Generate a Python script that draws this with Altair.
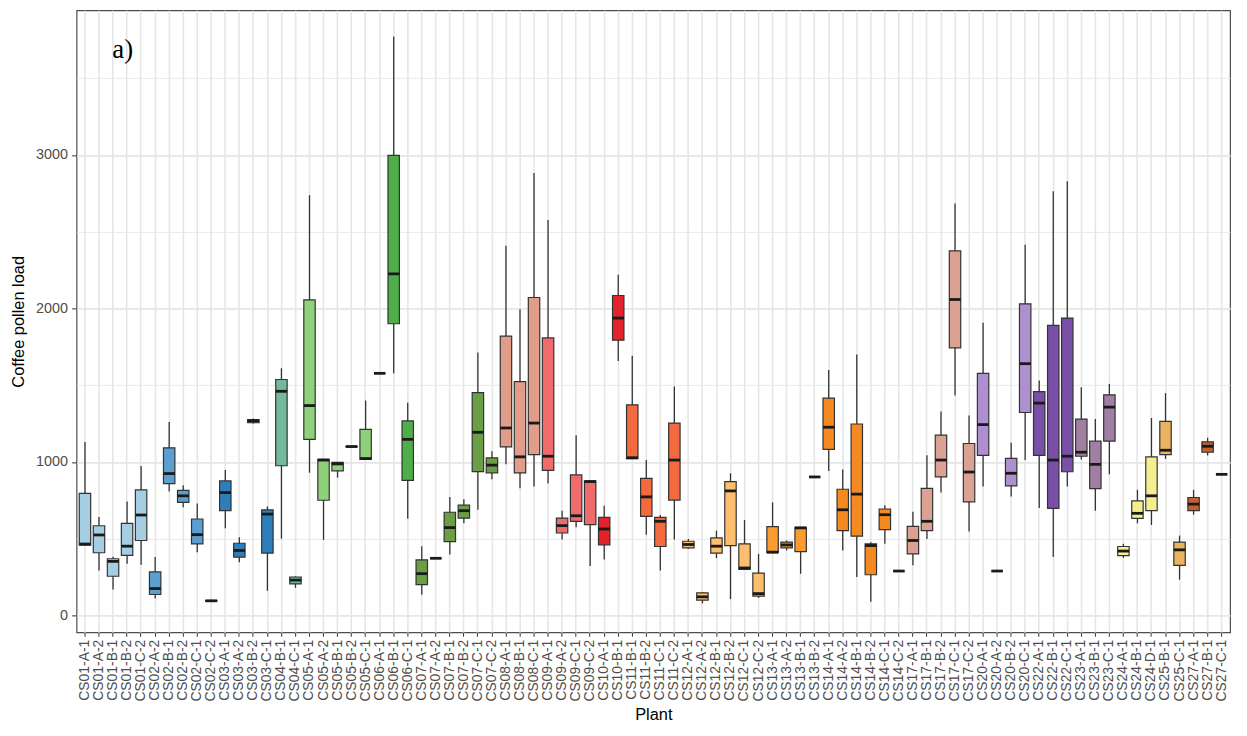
import altair as alt
import pandas as pd

plants = ["CS01-A-1","CS01-A-2","CS01-B-1","CS01-B-2","CS01-C-2",
          "CS02-A-2","CS02-B-1","CS02-B-2","CS02-C-1","CS02-C-2",
          "CS03-A-1","CS03-A-2","CS03-B-2","CS03-C-1",
          "CS04-B-1","CS04-C-1",
          "CS05-A-1","CS05-A-2","CS05-B-1","CS05-B-2","CS05-C-1",
          "CS06-A-1","CS06-B-1","CS06-C-1",
          "CS07-A-1","CS07-A-2","CS07-B-1","CS07-B-2","CS07-C-1","CS07-C-2",
          "CS08-A-1","CS08-B-1","CS08-C-1",
          "CS09-A-1","CS09-A-2","CS09-C-1","CS09-C-2",
          "CS10-A-1","CS10-B-1",
          "CS11-B-1","CS11-B-2","CS11-C-1","CS11-C-2",
          "CS12-A-1","CS12-A-2","CS12-B-1","CS12-B-2","CS12-C-1","CS12-C-2",
          "CS13-A-1","CS13-A-2","CS13-B-1","CS13-B-2",
          "CS14-A-1","CS14-A-2","CS14-B-1","CS14-B-2","CS14-C-1","CS14-C-2",
          "CS17-A-1","CS17-B-1","CS17-B-2","CS17-C-1","CS17-C-2",
          "CS20-A-1","CS20-A-2","CS20-B-2","CS20-C-1",
          "CS22-A-1","CS22-B-1","CS22-C-1",
          "CS23-A-1","CS23-B-1","CS23-C-1",
          "CS24-A-1","CS24-B-1","CS24-D-1",
          "CS25-B-1","CS25-C-1",
          "CS27-A-1","CS27-B-1","CS27-C-1"]

lower = [455,293,168,336,330, 110,807,704,412,92, 568,347,1250,160, 500,180,
         930,492,897,1097,1017, 1577,1577,630, 135,372,397,600,688,887,
         984,828,839, 859,494,574,322, 364,1657, 1021,526,293,494,
         434,78,373,106,300,114, 408,423,272,902, 941,423,250,89,466,289,
         326,498,800,1432,546, 839,289,775,1012, 699,380,839, 1016,682,919,
         375,600,589, 1020,233, 656,1042,919]
q1 = [458,408,255,391,488, 136,859,736,466,93, 682,380,1255,406, 975,205,
      1147,750,942,1099,1017, 1577,1900,880, 200,372,480,634,937,929,
      1098,929,1048, 945,537,613,591, 460,1793, 1021,645,449,751,
      440,99,406,455,300,125, 408,440,416,902, 1081,552,516,265,559,289,
      401,552,902,1743,740, 1042,289,844,1322, 1042,697,936, 1037,826,1135,
      390,632,682, 1048,326, 682,1063,919]
median = [465,524,352,451,654, 175,924,779,526,95, 800,423,1268,660, 1460,230,
          1367,1012,987,1100,1022, 1577,2225,1147, 272,372,572,682,1193,979,
          1221,1033,1253, 1037,585,649,872, 563,1937, 1027,772,613,1012,
          462,121,451,811,309,142, 412,459,570,902, 1226,688,790,455,656,289,
          488,613,1012,2058,934, 1243,289,926,1640, 1383,1012,1037, 1063,984,1357,
          419,665,779, 1076,427, 725,1102,919]
q3 = [795,584,369,600,818, 283,1092,815,628,97, 876,470,1275,688, 1537,250,
      2055,1017,997,1101,1212, 1577,2997,1267, 362,372,672,718,1451,1026,
      1820,1523,2071, 1808,634,915,876, 639,2084, 1372,893,639,1253,
      483,147,505,872,466,276, 578,477,574,902, 1415,822,1247,466,693,289,
      580,828,1174,2375,1120, 1577,289,1023,2030, 1458,1890,1937, 1279,1135,1437,
      449,746,1033, 1264,477, 768,1131,919]
upper = [1130,641,382,742,973, 380,1260,848,729,98, 947,509,1282,710, 1610,255,
         2737,1020,1000,1103,1400, 1577,3772,1385, 450,372,772,757,1712,1069,
         2408,1994,2882, 2576,682,1174,876, 714,2220, 1691,1012,654,1491,
         498,153,552,926,621,401, 736,488,574,902, 1599,951,1700,477,718,289,
         675,1044,1329,2684,1303, 1907,289,1124,2414, 1530,2764,2828, 1486,1279,1508,
         466,818,1286, 1448,520, 818,1157,919]

sites = ["CS01","CS02","CS03","CS04","CS05","CS06","CS07","CS08","CS09","CS10","CS11",
         "CS12","CS13","CS14","CS17","CS20","CS22","CS23","CS24","CS25","CS27"]
site_colors = ["#a6cee3","#5b9fd1","#2e7ebb","#74b99b","#8fd07b","#4fae49","#6a9f45",
               "#e29c8a","#f06b6b","#e3232b","#f26a3e","#fdbe6d","#fb9c30","#f58a20",
               "#dba294","#ae8fcf","#7a4fa7","#a07fa2","#f3ee90","#e8b45f","#c65e30"]

panel_label = "a)"

df = pd.DataFrame({"plant": plants, "lo": lower, "q1": q1, "med": median,
                   "q3": q3, "hi": upper})
df["site"] = df["plant"].str[:4]

FONT = "Liberation Sans"

x = alt.X("plant:N", sort=plants,
          scale=alt.Scale(paddingInner=0, paddingOuter=0.1),
          axis=alt.Axis(title="Plant", labelAngle=270, labelFontSize=14,
                        labelColor="#4d4d4d", labelFont=FONT, labelPadding=3,
                        tickColor="#333333", tickSize=4, tickWidth=1,
                        domain=False, grid=True, gridColor="#e6e6e6", gridWidth=1.6,
                        titleFont=FONT, titleFontSize=16.5, titleFontWeight="normal",
                        titleColor="#000000", titlePadding=6))

y_scale = alt.Scale(domain=[-110, 3942], nice=False, zero=False)
y_axis = alt.Axis(title="Coffee pollen load",
                  values=[0, 500, 1000, 1500, 2000, 2500, 3000, 3500],
                  labelExpr="datum.value % 1000 === 0 ? datum.label : ''",
                  format="d",
                  labelFontSize=14.5, labelColor="#4d4d4d", labelFont=FONT,
                  labelPadding=4,
                  tickColor="#333333", tickSize=5,
                  tickOpacity={"condition": {"test": "datum.value % 1000 === 0", "value": 1}, "value": 0},
                  domain=False, grid=True, gridColor="#e6e6e6",
                  gridWidth={"condition": {"test": "datum.value % 1000 === 0", "value": 1.6}, "value": 0.9},
                  titleFont=FONT, titleFontSize=16.5, titleFontWeight="normal",
                  titleColor="#000000", titlePadding=9)

base = alt.Chart(df)

whisk = base.mark_rule(color="#333333", strokeWidth=1.3).encode(
    x=x, y=alt.Y("lo:Q", scale=y_scale, axis=y_axis), y2="hi:Q")

box = base.mark_bar(size=11.5, stroke="#333333", strokeWidth=1.2).encode(
    x=x, y=alt.Y("q1:Q", scale=y_scale), y2="q3:Q",
    fill=alt.Fill("site:N", scale=alt.Scale(domain=sites, range=site_colors), legend=None))

med = base.mark_tick(size=11.5, thickness=2.8, color="#1a1a1a", opacity=1).encode(
    x=x, y=alt.Y("med:Q", scale=y_scale))

label = alt.Chart(pd.DataFrame({"t": [panel_label]})).mark_text(
    font="Liberation Serif", fontSize=27, align="left", baseline="alphabetic",
    color="#000000").encode(x=alt.value(36), y=alt.value(48), text="t:N")

chart = alt.layer(whisk, box, med, label).properties(
    width=1161, height=626,
    autosize=alt.AutoSizeParams(type="none"),
    padding={"left": 69, "top": 0, "right": 9, "bottom": 94},
).configure_view(stroke="#4d4d4d", strokeWidth=1.2)

chart.save("out.html", embed_options={"renderer": "svg", "actions": False})
